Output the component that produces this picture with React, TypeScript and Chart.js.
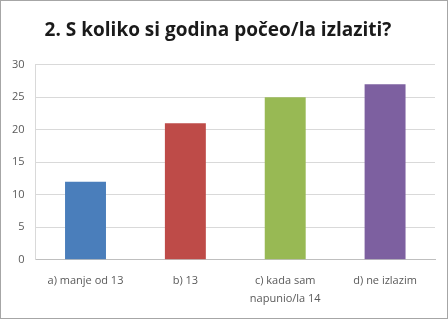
import React, { useEffect, useRef } from "react";
import { Chart, registerables } from "chart.js";

Chart.register(...registerables);

const title = "2. S koliko si godina počeo/la izlaziti?";
const categories: (string | string[])[] = [
  "a) manje od 13",
  "b) 13",
  ["c) kada sam", "napunio/la 14"],
  "d) ne izlazim",
];
const values = [12, 21, 25, 27];
const barColors = ["#4a7ebb", "#be4b48", "#98b954", "#7d60a0"];
const yTicks = [0, 5, 10, 15, 20, 25, 30];

export default function App() {
  const ref = useRef<HTMLCanvasElement>(null);
  useEffect(() => {
    document.body.style.margin = "0";
    const chart = new Chart(ref.current!, {
      type: "bar",
      data: {
        labels: categories,
        datasets: [
          {
            data: values,
            backgroundColor: barColors,
            borderWidth: 0,
            barPercentage: 0.41,
            categoryPercentage: 1,
          },
        ],
      },
      options: {
        animation: false,
        responsive: false,
        layout: { padding: { left: 0, right: 12, top: 4, bottom: 6 } },
        plugins: {
          legend: { display: false },
          tooltip: { enabled: false },
          title: {
            display: true,
            text: title,
            color: "#1a1a1a",
            font: { family: "'Open Sans', sans-serif", size: 19, weight: "bold" },
            padding: { top: 14, bottom: 23 },
          },
        },
        scales: {
          x: {
            grid: { display: false },
            border: { color: "#bfbfbf" },
            ticks: {
              color: "#595959",
              font: { family: "'Open Sans', sans-serif", size: 11, lineHeight: 1.65 },
              maxRotation: 0,
              padding: 4,
            },
          },
          y: {
            min: 0,
            max: 30,
            afterBuildTicks: (axis: any) => {
              axis.ticks = yTicks.map((v) => ({ value: v }));
            },
            grid: { color: "#d9d9d9", drawTicks: false },
            border: { display: true, color: "#d9d9d9" },
            ticks: {
              color: "#595959",
              font: { family: "'Open Sans', sans-serif", size: 11 },
              padding: 11,
            },
          },
        },
      },
    });
    return () => chart.destroy();
  }, []);
  return (
    <div
      style={{
        width: 448,
        height: 319,
        boxSizing: "border-box",
        border: "1px solid #a6a6a6",
        background: "#fff",
      }}
    >
      <canvas ref={ref} width={446} height={317} style={{ display: "block" }} />
    </div>
  );
}
